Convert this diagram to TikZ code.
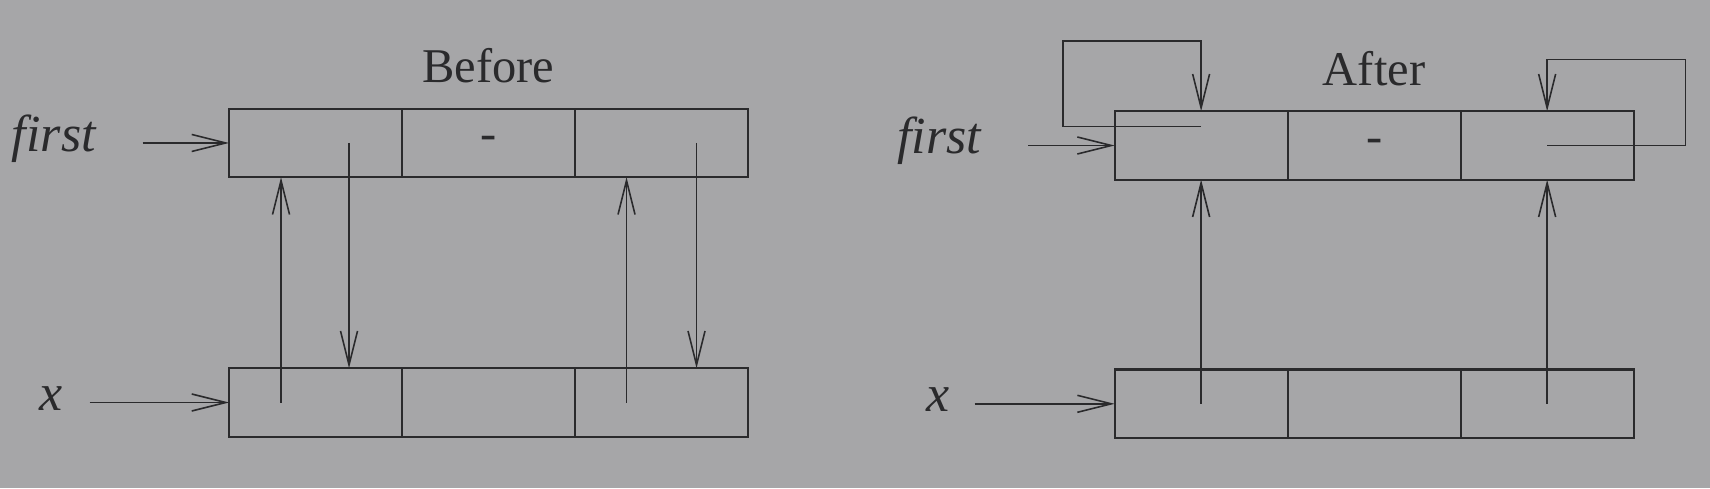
\documentclass[tikz,border=0pt]{standalone}
\usepackage{fontspec}
\setmainfont{Liberation Serif}
\usetikzlibrary{
	calc,
	positioning,
	arrows.meta
}
\definecolor{bggrey}{RGB}{166,166,168}
\definecolor{ink}{RGB}{42,42,44}

\begin{document}
\begin{tikzpicture}[
	>={Straight Barb[length=3.4mm, width=1.7mm]},
	line width=0.45pt,
	ink,
	cell/.style={draw, rectangle, line width=0.6pt, minimum width=1.73cm, minimum height=0.685cm, inner sep=0, outer sep=0},
	lbl/.style={inner sep=0, font=\fontsize{13.8}{16}\selectfont},
	varlbl/.style={inner sep=0, font=\fontsize{14.8}{17}\selectfont\itshape}
]
	\fill[bggrey] (0,0) rectangle (17.1,4.88);
	\useasboundingbox (0,0) rectangle (17.1,4.88);

	\node(bf1)[cell] at (3.155,3.45) {};
	\node(bf2)[cell, right=0pt of bf1, lbl] {-};
	\node(bf3)[cell, right=0pt of bf2] {};

	\node(bx1)[cell] at (3.155,0.855) {};
	\node(bx2)[cell, right=0pt of bx1] {};
	\node(bx3)[cell, right=0pt of bx2] {};

	\node(af1)[cell] at (12.011,3.425) {};
	\node(af2)[cell, right=0pt of af1, lbl] {-};
	\node(af3)[cell, right=0pt of af2] {};

	\node(ax1)[cell] at (12.011,0.842) {};
	\node(ax2)[cell, right=0pt of ax1] {};
	\node(ax3)[cell, right=0pt of ax2] {};

	\node(before)[lbl, anchor=base] at ($(bf2.north) + (0, 0.263)$) {Before};
	\node(after)[lbl, anchor=base] at ($(af2.north) + (0, 0.26)$) {After};

	\coordinate (bfs) at ($(bf1.west) + (-0.865, 0)$);
	\coordinate (bxs) at ($(bx1.west) + (-1.395, 0)$);
	\coordinate (afs) at ($(af1.west) + (-0.866, 0)$);
	\coordinate (axs) at ($(ax1.west) + (-1.40, 0)$);

	\draw[->] (bfs) -- (bf1.west);
	\draw[->] (bxs) -- (bx1.west);
	\draw[->] (afs) -- (af1.west);
	\draw[->] (axs) -- (ax1.west);

	\node(bfirst)[varlbl, anchor=mid east] at ($(bfs) + (-0.46, 0)$) {first};
	\node(bxname)[varlbl, anchor=mid east] at ($(bxs) + (-0.265, 0)$) {x};
	\node(afirst)[varlbl, anchor=mid east] at ($(afs) + (-0.46, 0)$) {first};
	\node(axname)[varlbl, anchor=mid east] at ($(axs) + (-0.245, 0)$) {x};

	\coordinate (bp1) at ($(bx1.center) + (-0.345, 0)$);
	\coordinate (bq1) at ($(bf1.center) + (0.335, 0)$);
	\coordinate (bp3) at ($(bx3.center) + (-0.35, 0)$);
	\coordinate (bq3) at ($(bf3.center) + (0.35, 0)$);

	\draw[->] (bp1) -- (bp1 |- bf1.south);
	\draw[->] (bq1) -- (bq1 |- bx1.north);
	\draw[->] (bp3) -- (bp3 |- bf3.south);
	\draw[->] (bq3) -- (bq3 |- bx3.north);

	\draw[->] (ax1.center) -- (af1.south);
	\draw[->] (ax3.center) -- (af3.south);

	\coordinate (al1) at ($(af1.center) + (0, 0.19)$);
	\draw[->] (al1) -- ++(-1.38, 0) |- ($(af1.north) + (0, 0.703)$) -- (af1.north);
	\draw[->] (af3.center) -- ++(1.385, 0) |- ($(af3.north) + (0, 0.517)$) -- (af3.north);
\end{tikzpicture}
\end{document}
